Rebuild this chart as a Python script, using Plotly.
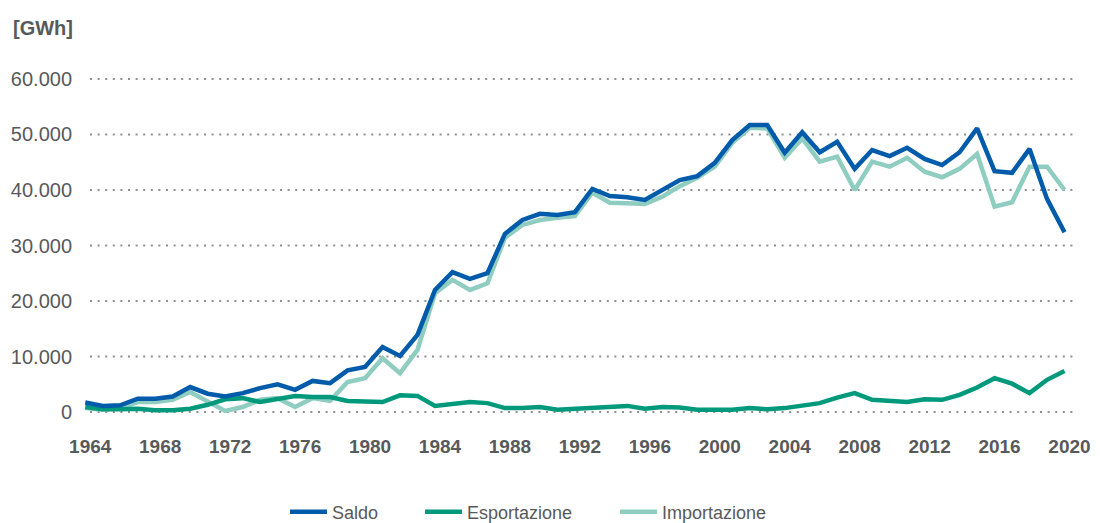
import plotly.graph_objects as go

years = list(range(1964, 2021))

saldo = [1700, 1100, 1200, 2400, 2400, 2800, 4500, 3300, 2800, 3400,
         4300, 5000, 4000, 5600, 5200, 7500, 8100, 11700, 10100, 13900,
         22000, 25200, 24000, 25000, 32100, 34600, 35700, 35500, 36000, 40200,
         38900, 38700, 38200, 40000, 41800, 42500, 44900, 49000, 51700, 51700,
         46700, 50400, 46800, 48700, 43800, 47200, 46100, 47600, 45600, 44500,
         46800, 51100, 43400, 43100, 47400, 38400, 32400]

esportazione = [900, 500, 500, 600, 300, 300, 600, 1300, 2300, 2500,
                1800, 2300, 2900, 2700, 2700, 2000, 1800, 1800, 3000, 2900,
                1100, 1400, 1800, 1600, 700, 700, 900, 400, 600, 700,
                900, 1100, 600, 900, 800, 400, 400, 400, 700, 500,
                700, 1100, 1600, 2600, 3400, 2200, 1900, 1800, 2300, 2200,
                3100, 4400, 6100, 5100, 3400, 5800, 7400]

importazione = [700, 400, 700, 1800, 1800, 2200, 3600, 1800, 200, 900,
                2200, 2500, 900, 2500, 2000, 5400, 6100, 9700, 7000, 11200,
                21400, 23800, 22000, 23200, 31400, 33700, 34600, 35000, 35300, 39500,
                37700, 37600, 37500, 38800, 40700, 42200, 44200, 48500, 51200, 51100,
                45800, 49300, 45100, 46000, 40000, 45100, 44200, 45800, 43300, 42300,
                43800, 46500, 37000, 37800, 44200, 44200, 40000]

x_ticks = list(range(1964, 2021, 4))
y_ticks = [0, 10000, 20000, 30000, 40000, 50000, 60000]

series = [
    ("Saldo", saldo, "#005BAA", "legend"),
    ("Esportazione", esportazione, "#00997B", "legend2"),
    ("Importazione", importazione, "#8ECDC0", "legend3"),
]

fig = go.Figure()
for name, vals, color, leg in [series[2], series[1], series[0]]:
    fig.add_trace(go.Scatter(
        x=years, y=vals, name=name, mode="lines",
        line=dict(color=color, width=4.5),
        legend=leg,
    ))

# dotted horizontal gridlines
for v in y_ticks:
    fig.add_shape(type="line", xref="paper", yref="y", x0=10 / 995, x1=1, y0=v, y1=v,
                  line=dict(color="#8F8F8F", width=2, dash="2px,5.6px"), layer="below")

font_family = "Liberation Sans, Arial, Helvetica, sans-serif"
leg_common = dict(orientation="h", xref="container", xanchor="left",
                  y=1 - 512 / 523, yref="container", yanchor="middle",
                  font=dict(size=18, color="#58595B"), itemwidth=37,
                  bgcolor="rgba(0,0,0,0)")
fig.update_layout(
    width=1100, height=523,
    margin=dict(l=80, r=25, t=70, b=103, autoexpand=False),
    paper_bgcolor="white", plot_bgcolor="white",
    separators=",.",
    font=dict(family=font_family, color="#58595B"),
    showlegend=True,
    legend=dict(x=(335 - 50) / 1100, **leg_common),
    legend2=dict(x=(470 - 50) / 1100, **leg_common),
    legend3=dict(x=(665 - 50) / 1100, **leg_common),
    xaxis=dict(range=[1963.7, 2020.6], tickvals=x_ticks, showgrid=False,
               zeroline=False, showline=False, ticks="", automargin=False,
               tickfont=dict(size=19, color="#58595B", family=font_family, weight="bold"),
               ticklabelstandoff=13, ticklabelshift=5),
    yaxis=dict(range=[-1441, 61620], tickvals=y_ticks, tickformat=",d", automargin=False,
               showgrid=False, zeroline=False, showline=False, ticks="",
               tickfont=dict(size=20, color="#58595B", family=font_family),
               ticklabelstandoff=7),
    annotations=[dict(text="<b>[GWh]</b>", xref="paper", yref="paper",
                      x=(11 - 80) / 995, y=1 + (70 - 28) / 350, xanchor="left", yanchor="middle",
                      showarrow=False, font=dict(size=20, color="#58595B"))],
)

fig.write_html("out.html", config={"displayModeBar": False},
               post_script="document.body.style.margin='0';")
